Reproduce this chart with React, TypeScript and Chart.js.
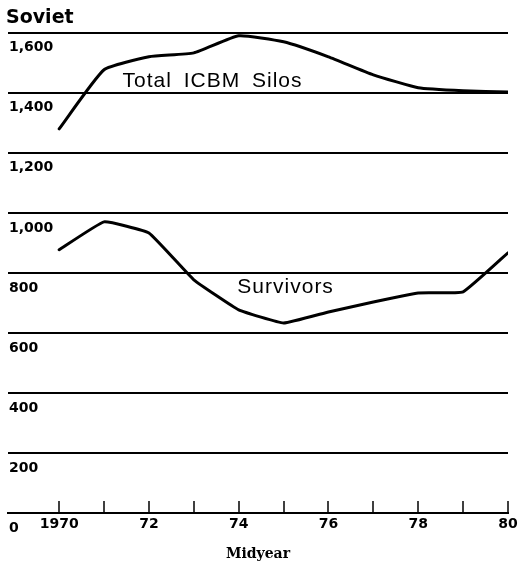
import React, { useEffect, useRef } from "react";
import { Chart, registerables } from "chart.js";

Chart.register(...registerables);

const titleText = "Soviet";
const xAxisTitle = "Midyear";
const years = [1970, 1971, 1972, 1973, 1974, 1975, 1976, 1977, 1978, 1979, 1980];
const totalSilos = [1280, 1477, 1520, 1533, 1590, 1570, 1520, 1460, 1417, 1407, 1403];
const survivors = [877, 970, 933, 777, 677, 633, 670, 703, 733, 737, 867];
const xTickYears = [1970, 1971, 1972, 1973, 1974, 1975, 1976, 1977, 1978, 1979, 1980];
const xTickLabels: Record<number, string> = { 1970: "1970", 1972: "72", 1974: "74", 1976: "76", 1978: "78", 1980: "80" };
const yTicks = [0, 200, 400, 600, 800, 1000, 1200, 1400, 1600];
const seriesNames = ["Total ICBM Silos", "Survivors"];
// label anchors in data units (year, value at text baseline)
const labelAnchors = [
  { year: 1971.41, value: 1420 },
  { year: 1973.97, value: 733 },
];

const annotationPlugin = {
  id: "annotations",
  afterDatasetsDraw(chart: any) {
    const { ctx, scales } = chart;
    const x = scales.x;
    const y = scales.y;
    ctx.save();
    ctx.strokeStyle = "#000";
    ctx.lineWidth = 1.5;
    const bottom = chart.chartArea.bottom;
    xTickYears.forEach((yr) => {
      const px = Math.round(x.getPixelForValue(yr));
      ctx.beginPath();
      ctx.moveTo(px, bottom);
      ctx.lineTo(px, bottom - 12);
      ctx.stroke();
    });
    ctx.fillStyle = "#000";
    ctx.font = "21px 'Liberation Sans'";
    (ctx as any).letterSpacing = "1px";
    (ctx as any).wordSpacing = "5px";
    ctx.textAlign = "left";
    ctx.textBaseline = "alphabetic";
    seriesNames.forEach((name, i) => {
      const a = labelAnchors[i];
      ctx.fillText(name, x.getPixelForValue(a.year), y.getPixelForValue(a.value));
    });
    ctx.restore();
  },
};

export default function App() {
  const canvasRef = useRef<HTMLCanvasElement | null>(null);

  useEffect(() => {
    const canvas = canvasRef.current;
    if (!canvas) return;
    const chart = new Chart(canvas, {
      type: "line",
      data: {
        datasets: [
          {
            label: seriesNames[0],
            data: years.map((yr, i) => ({ x: yr, y: totalSilos[i] })),
            borderColor: "#000",
            borderWidth: 3,
            pointRadius: 0,
            tension: 0.15,
            borderJoinStyle: "round",
            borderCapStyle: "round",
            fill: false,
          },
          {
            label: seriesNames[1],
            data: years.map((yr, i) => ({ x: yr, y: survivors[i] })),
            borderColor: "#000",
            borderWidth: 3,
            pointRadius: 0,
            tension: 0.1,
            borderJoinStyle: "round",
            borderCapStyle: "round",
            fill: false,
          },
        ],
      },
      options: {
        responsive: false,
        animation: false,
        events: [],
        layout: { padding: { left: 6, right: 17, top: 0, bottom: 6.6 } },
        plugins: {
          legend: { display: false },
          tooltip: { enabled: false },
          title: {
            display: true,
            text: titleText,
            align: "start",
            color: "#000",
            font: { family: "'DejaVu Sans'", size: 19, weight: "bold" },
            padding: { top: 7, bottom: 3 },
          },
        },
        scales: {
          x: {
            type: "linear",
            min: 1968.86,
            max: 1980,
            afterBuildTicks: (scale: any) => {
              scale.ticks = xTickYears.map((v) => ({ value: v }));
            },
            grid: { display: false, drawTicks: false },
            border: { display: true, color: "#000", width: 2 },
            ticks: {
              color: "#000",
              padding: 3,
              maxRotation: 0,
              autoSkip: false,
              font: { family: "'DejaVu Sans'", size: 14, weight: "bold" },
              callback: (v: any) => xTickLabels[v as number] ?? "",
            },
            title: {
              display: true,
              text: xAxisTitle,
              color: "#000",
              font: { family: "'DejaVu Serif'", size: 14, weight: "bold" },
              padding: { top: 9.8, bottom: 0 },
            },
          },
          y: {
            type: "linear",
            min: 0,
            max: 1600,
            afterBuildTicks: (scale: any) => {
              scale.ticks = yTicks.map((v) => ({ value: v }));
            },
            grid: { color: "#000", lineWidth: 2, drawTicks: false },
            border: { display: false },
            ticks: {
              mirror: true,
              padding: 1,
              labelOffset: 15,
              color: "#000",
              font: { family: "'DejaVu Sans'", size: 14, weight: "bold" },
              callback: (v: any) => Number(v).toLocaleString("en-US"),
            },
          },
        },
      },
      plugins: [annotationPlugin],
    } as any);
    return () => chart.destroy();
  }, []);

  return (
    <div style={{ position: "fixed", left: 0, top: 0, width: 525, height: 569, background: "#fff" }}>
      <canvas ref={canvasRef} width={525} height={569} style={{ display: "block" }} />
    </div>
  );
}
